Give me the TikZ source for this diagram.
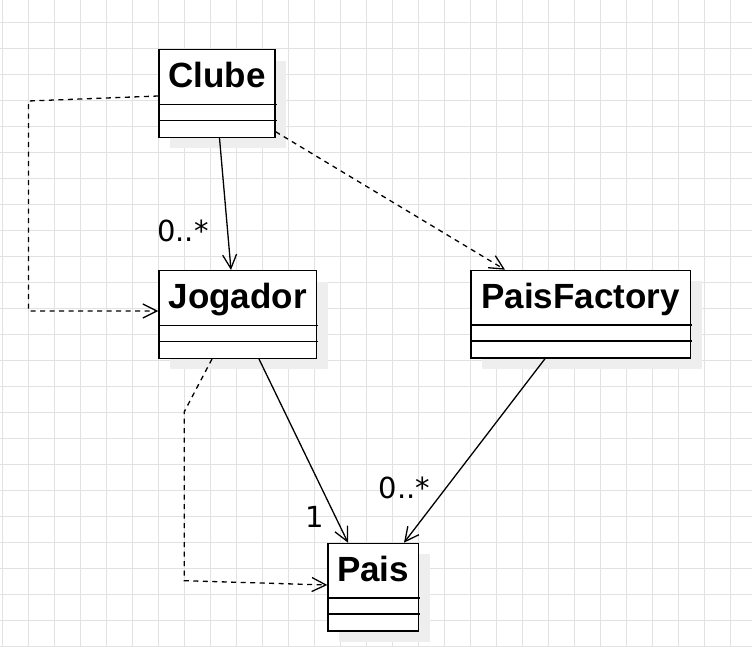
\documentclass[tikz,border=0pt]{standalone}
\usepackage{fontspec}
\setmainfont{Liberation Sans}
\newfontfamily\labelfont{DejaVu Sans}
\usetikzlibrary{arrows.meta,calc}
\definecolor{gridc}{HTML}{E2E2E2}
\definecolor{shadowc}{HTML}{EEEEEE}
\begin{document}
\begin{tikzpicture}[x=1pt,y=-1pt,
  clsbox/.style={draw=black, line width=1.3pt, fill=white, anchor=north west, inner sep=0pt,
    minimum height=87.7pt,
    preaction={fill=shadowc, draw=none, transform canvas={xshift=11.5pt,yshift=-11pt}}},
  clsname/.style={anchor=base, inner sep=0pt, font=\bfseries\fontsize{35}{40}\selectfont},
  divider/.style={draw=black, line width=1.3pt},
  mult/.style={anchor=base west, inner sep=0pt, font=\labelfont\fontsize{29}{34}\selectfont},
  opentip/.style={-{Straight Barb[length=14pt,width=14pt]}},
  assoc/.style={draw=black, line width=1.3pt, opentip},
  dep/.style={draw=black, line width=1.3pt, dash pattern=on 5pt off 4.5pt, opentip}]

\useasboundingbox (0,0) rectangle (752,647);
\begin{scope}
\clip (0,0) rectangle (752,647);
\fill[white] (0,0) rectangle (752,647);
\foreach \k in {0,...,28} \draw[gridc, line width=1pt] ({2.5+26*\k},0) -- ({2.5+26*\k},647);
\foreach \k in {0,...,24} \draw[gridc, line width=1pt] (0,{22.7+26*\k}) -- (752,{22.7+26*\k});
\end{scope}

% classes
\node[clsbox, minimum width=116pt] (clube) at (158.3,49) {};
\node[clsbox, minimum width=157.7pt] (jogador) at (158.3,270) {};
\node[clsbox, minimum width=219.4pt] (pf) at (470.3,269.7) {};
\node[clsbox, minimum width=90.4pt] (pais) at (327.3,542.7) {};

\foreach \c/\t in {clube/Clube, jogador/Jogador, pf/PaisFactory, pais/Pais}{
  \node[clsname] (\c-name) at ([yshift=-38.3pt]\c.north) {\t};
  \draw[divider] ([yshift=-55.3pt]\c.north west) -- ([yshift=-55.3pt,xshift=1pt]\c.north east);
  \draw[divider] ([yshift=-71.3pt]\c.north west) -- ([yshift=-71.3pt,xshift=1pt]\c.north east);
}

% connectors
\draw[dep] ([yshift=-47pt]clube.north west) -- (28.5,101) -- (28.5,311) -- ([yshift=-41pt]jogador.north west);
\draw[assoc] ([xshift=61.2pt]clube.south west) -- ([xshift=72.7pt]jogador.north west);
\draw[dep] ([yshift=6.3pt]clube.south east) -- ([xshift=34.7pt]pf.north west);
\draw[dep] ([xshift=53.7pt]jogador.south west) -- (184.3,411.7) -- (184.3,580.7) -- ([yshift=-42.3pt]pais.north west);
\draw[assoc] ([xshift=100.7pt]jogador.south west) -- ([xshift=20.7pt]pais.north west);
\draw[assoc] ([xshift=74.7pt]pf.south west) -- ([xshift=76.7pt]pais.north west);

% multiplicities
\node[mult] (m1) at (157,241.7) {0..*};
\node[mult] (m2) at (305,527.5) {1};
\node[mult] (m3) at (378.5,498.3) {0..*};
\end{tikzpicture}
\end{document}
